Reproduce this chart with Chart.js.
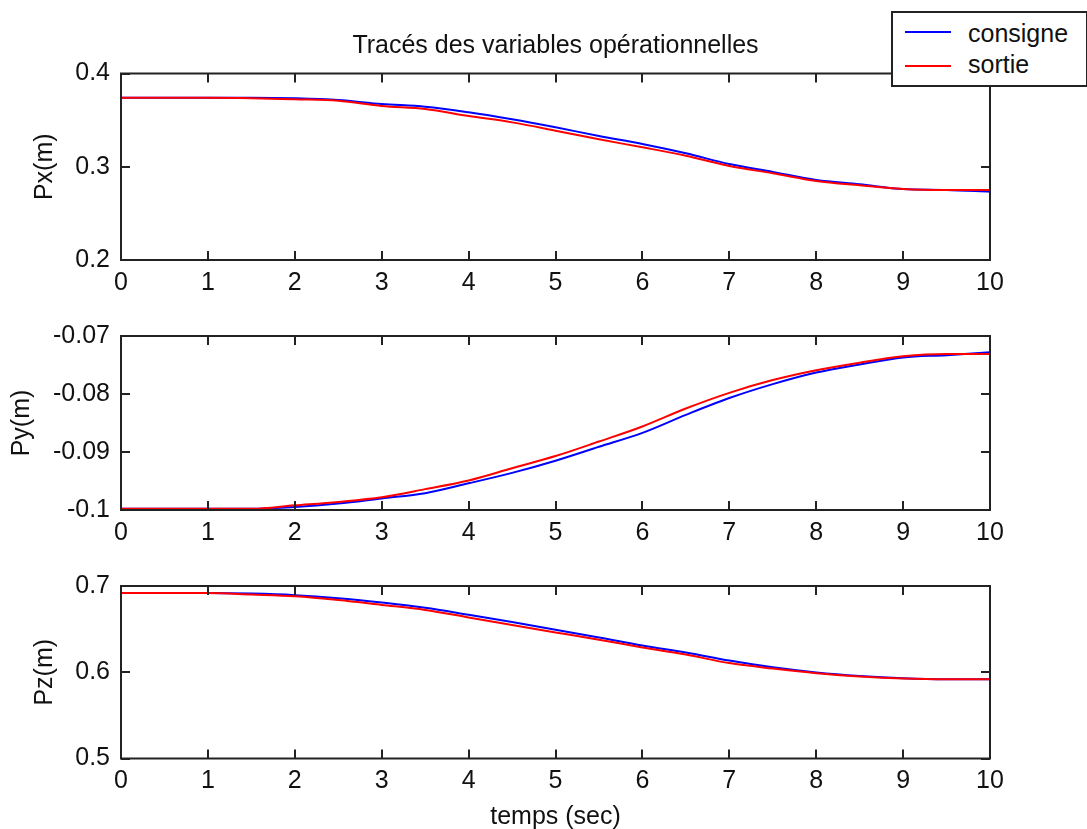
<!DOCTYPE html>
<html lang="fr">
<head>
<meta charset="utf-8">
<title>Tracés des variables opérationnelles</title>
<script src="https://cdn.jsdelivr.net/npm/chart.js@4.4.1/dist/chart.umd.min.js"></script>
<style>
  html, body { margin: 0; padding: 0; background: #fff; overflow: hidden; }
  #fig {
    position: relative; width: 1087px; height: 829px; overflow: hidden; background: #fff;
    font-family: "Liberation Sans", Arial, sans-serif; color: #111;
  }
  #fig canvas { position: absolute; left: 0; }
  #legende {
    position: absolute; left: 891px; top: 11px; width: 197px; height: 76px;
    box-sizing: border-box; border: 2px solid #222; background: #fff; z-index: 2;
  }
  #legende .trait { position: absolute; left: 12px; width: 46px; height: 2.5px; }
  #legende .nom { position: absolute; left: 75px; font-size: 25px; line-height: 30px; white-space: nowrap; }
</style>
</head>
<body>
<div id="fig">
  <canvas id="cPx" width="1087" height="310" style="top:0"></canvas>
  <canvas id="cPy" width="1087" height="250" style="top:310px"></canvas>
  <canvas id="cPz" width="1087" height="290" style="top:560px"></canvas>
  <div id="legende"></div>
</div>
<script>
// temps d'échantillonnage (s)
const temps = [0, 0.5, 1, 1.5, 2, 2.5, 3, 3.5, 4, 4.5, 5, 5.5, 6, 6.5, 7, 7.5, 8, 8.5, 9, 9.5, 10];

// Px (m)
const pxConsigne = [0.3740, 0.3740, 0.3740, 0.3740, 0.3734, 0.3716, 0.3673, 0.3644, 0.3584, 0.3509, 0.3423,
                    0.3330, 0.3244, 0.3144, 0.3029, 0.2944, 0.2858, 0.2812, 0.2761, 0.2751, 0.2733];
const pxSortie   = [0.3740, 0.3740, 0.3740, 0.3735, 0.3723, 0.3708, 0.3651, 0.3619, 0.3544, 0.3476, 0.3387,
                    0.3294, 0.3209, 0.3119, 0.3008, 0.2930, 0.2847, 0.2801, 0.2761, 0.2751, 0.2751];

// Py (m)
const pyConsigne = [-0.0998, -0.0998, -0.0998, -0.0998, -0.0995, -0.0989, -0.0980, -0.0971, -0.0954, -0.0936, -0.0915,
                    -0.0891, -0.0867, -0.0836, -0.0807, -0.0783, -0.0763, -0.0749, -0.0737, -0.0733, -0.0728];
const pySortie   = [-0.0998, -0.0998, -0.0998, -0.0998, -0.0992, -0.0986, -0.0978, -0.0964, -0.0949, -0.0928, -0.0907,
                    -0.0882, -0.0856, -0.0825, -0.0798, -0.0776, -0.0759, -0.0746, -0.0735, -0.0731, -0.0731];

// Pz (m)
const pzConsigne = [0.6919, 0.6919, 0.6919, 0.6912, 0.6894, 0.6859, 0.6809, 0.6749, 0.6667, 0.6582, 0.6494,
                    0.6404, 0.6310, 0.6230, 0.6135, 0.6057, 0.5998, 0.5957, 0.5930, 0.5919, 0.5919];
const pzSortie   = [0.6919, 0.6919, 0.6919, 0.6901, 0.6880, 0.6837, 0.6781, 0.6723, 0.6635, 0.6547, 0.6462,
                    0.6377, 0.6288, 0.6205, 0.6106, 0.6043, 0.5989, 0.5952, 0.5928, 0.5919, 0.5919];

// graduations
const tempsTicks = [0, 1, 2, 3, 4, 5, 6, 7, 8, 9, 10];
const pxTicks = [0.2, 0.3, 0.4];
const pyTicks = [-0.1, -0.09, -0.08, -0.07];
const pzTicks = [0.5, 0.6, 0.7];

const series = ['consigne', 'sortie'];
const couleurs = ['#0000ff', '#ff0000'];

const TEXTE = '#111';
const TRAIT_AXES = '#222';
const GRAD = 9;          // longueur des graduations (vers l'intérieur)

Chart.defaults.font.family = '"Liberation Sans", Arial, sans-serif';
Chart.defaults.font.size = 25;
Chart.defaults.color = TEXTE;

// cadre fermé + graduations intérieures, façon matlab
const cadreAxes = {
  id: 'cadreAxes',
  afterDatasetsDraw(chart) {
    const { ctx, chartArea: a, scales: { x, y } } = chart;
    ctx.save();
    ctx.strokeStyle = TRAIT_AXES;
    ctx.lineWidth = 2;
    ctx.beginPath();
    x.ticks.forEach(t => {
      const px = Math.round(x.getPixelForValue(t.value));
      ctx.moveTo(px, a.top); ctx.lineTo(px, a.top + GRAD);
      ctx.moveTo(px, a.bottom); ctx.lineTo(px, a.bottom - GRAD);
    });
    y.ticks.forEach(t => {
      const py = Math.round(y.getPixelForValue(t.value));
      ctx.moveTo(a.left, py); ctx.lineTo(a.left + GRAD, py);
      ctx.moveTo(a.right, py); ctx.lineTo(a.right - GRAD, py);
    });
    ctx.stroke();
    ctx.strokeRect(a.left, a.top, a.right - a.left, a.bottom - a.top);
    ctx.restore();
  }
};

function points(vals) {
  return temps.map((t, i) => ({ x: t, y: vals[i] }));
}

function trace(id, opts) {
  const sets = [opts.consigne, opts.sortie].map((vals, i) => ({
    label: series[i],
    data: points(vals),
    borderColor: couleurs[i],
    borderWidth: 2,
    pointRadius: 0,
    cubicInterpolationMode: 'monotone',
    order: i === 0 ? 1 : 0      // la sortie passe par-dessus la consigne
  }));

  return new Chart(document.getElementById(id), {
    type: 'line',
    data: { datasets: sets },
    options: {
      responsive: false,
      animation: false,
      events: [],
      layout: { padding: { top: opts.padTop, right: 97, bottom: 0, left: 0 } },
      plugins: {
        legend: { display: false },
        tooltip: { enabled: false },
        title: opts.titre
          ? { display: true, text: opts.titre, fullSize: false, color: TEXTE,
              font: { size: 25, weight: 'normal' }, padding: { top: 31, bottom: 12.5 } }
          : { display: false }
      },
      scales: {
        x: {
          type: 'linear', min: 0, max: 10,
          grid: { display: false, drawTicks: false },
          border: { display: false },
          afterBuildTicks: s => { s.ticks = tempsTicks.map(v => ({ value: v })); },
          afterFit: s => { s.height = opts.hauteurX; },
          ticks: { padding: 8, maxRotation: 0, autoSkip: false, callback: v => String(v) },
          title: opts.titreX
            ? { display: true, text: opts.titreX, padding: { top: 0, bottom: 18 } }
            : { display: false }
        },
        y: {
          min: opts.ticks[0], max: opts.ticks[opts.ticks.length - 1],
          grid: { display: false, drawTicks: false },
          border: { display: false },
          afterBuildTicks: s => { s.ticks = opts.ticks.map(v => ({ value: v })); },
          afterFit: s => { s.width = 121; },
          ticks: { padding: 11, callback: v => String(+v.toFixed(2)) },
          title: { display: true, text: opts.titreY, padding: { top: opts.decalY, bottom: 0 } }
        }
      }
    },
    plugins: [cadreAxes]
  });
}

trace('cPx', { consigne: pxConsigne, sortie: pxSortie, ticks: pxTicks, titreY: 'Px(m)', decalY: 30,
               titre: 'Tracés des variables opérationnelles', padTop: 0, hauteurX: 50 });
trace('cPy', { consigne: pyConsigne, sortie: pySortie, ticks: pyTicks, titreY: 'Py(m)', decalY: 7.5,
               padTop: 12.7, hauteurX: 50 });
trace('cPz', { consigne: pzConsigne, sortie: pzSortie, ticks: pzTicks, titreY: 'Pz(m)', decalY: 30,
               titreX: 'temps (sec)', padTop: 10.7, hauteurX: 91.5 });

// légende commune, posée sur le premier tracé
const leg = document.getElementById('legende');
series.forEach((nom, i) => {
  const trait = document.createElement('div');
  trait.className = 'trait';
  trait.style.top = (17.5 + i * 34) + 'px';
  trait.style.background = couleurs[i];
  const lab = document.createElement('span');
  lab.className = 'nom';
  lab.style.top = (5 + i * 31) + 'px';
  lab.textContent = nom;
  leg.appendChild(trait);
  leg.appendChild(lab);
});
</script>
</body>
</html>
